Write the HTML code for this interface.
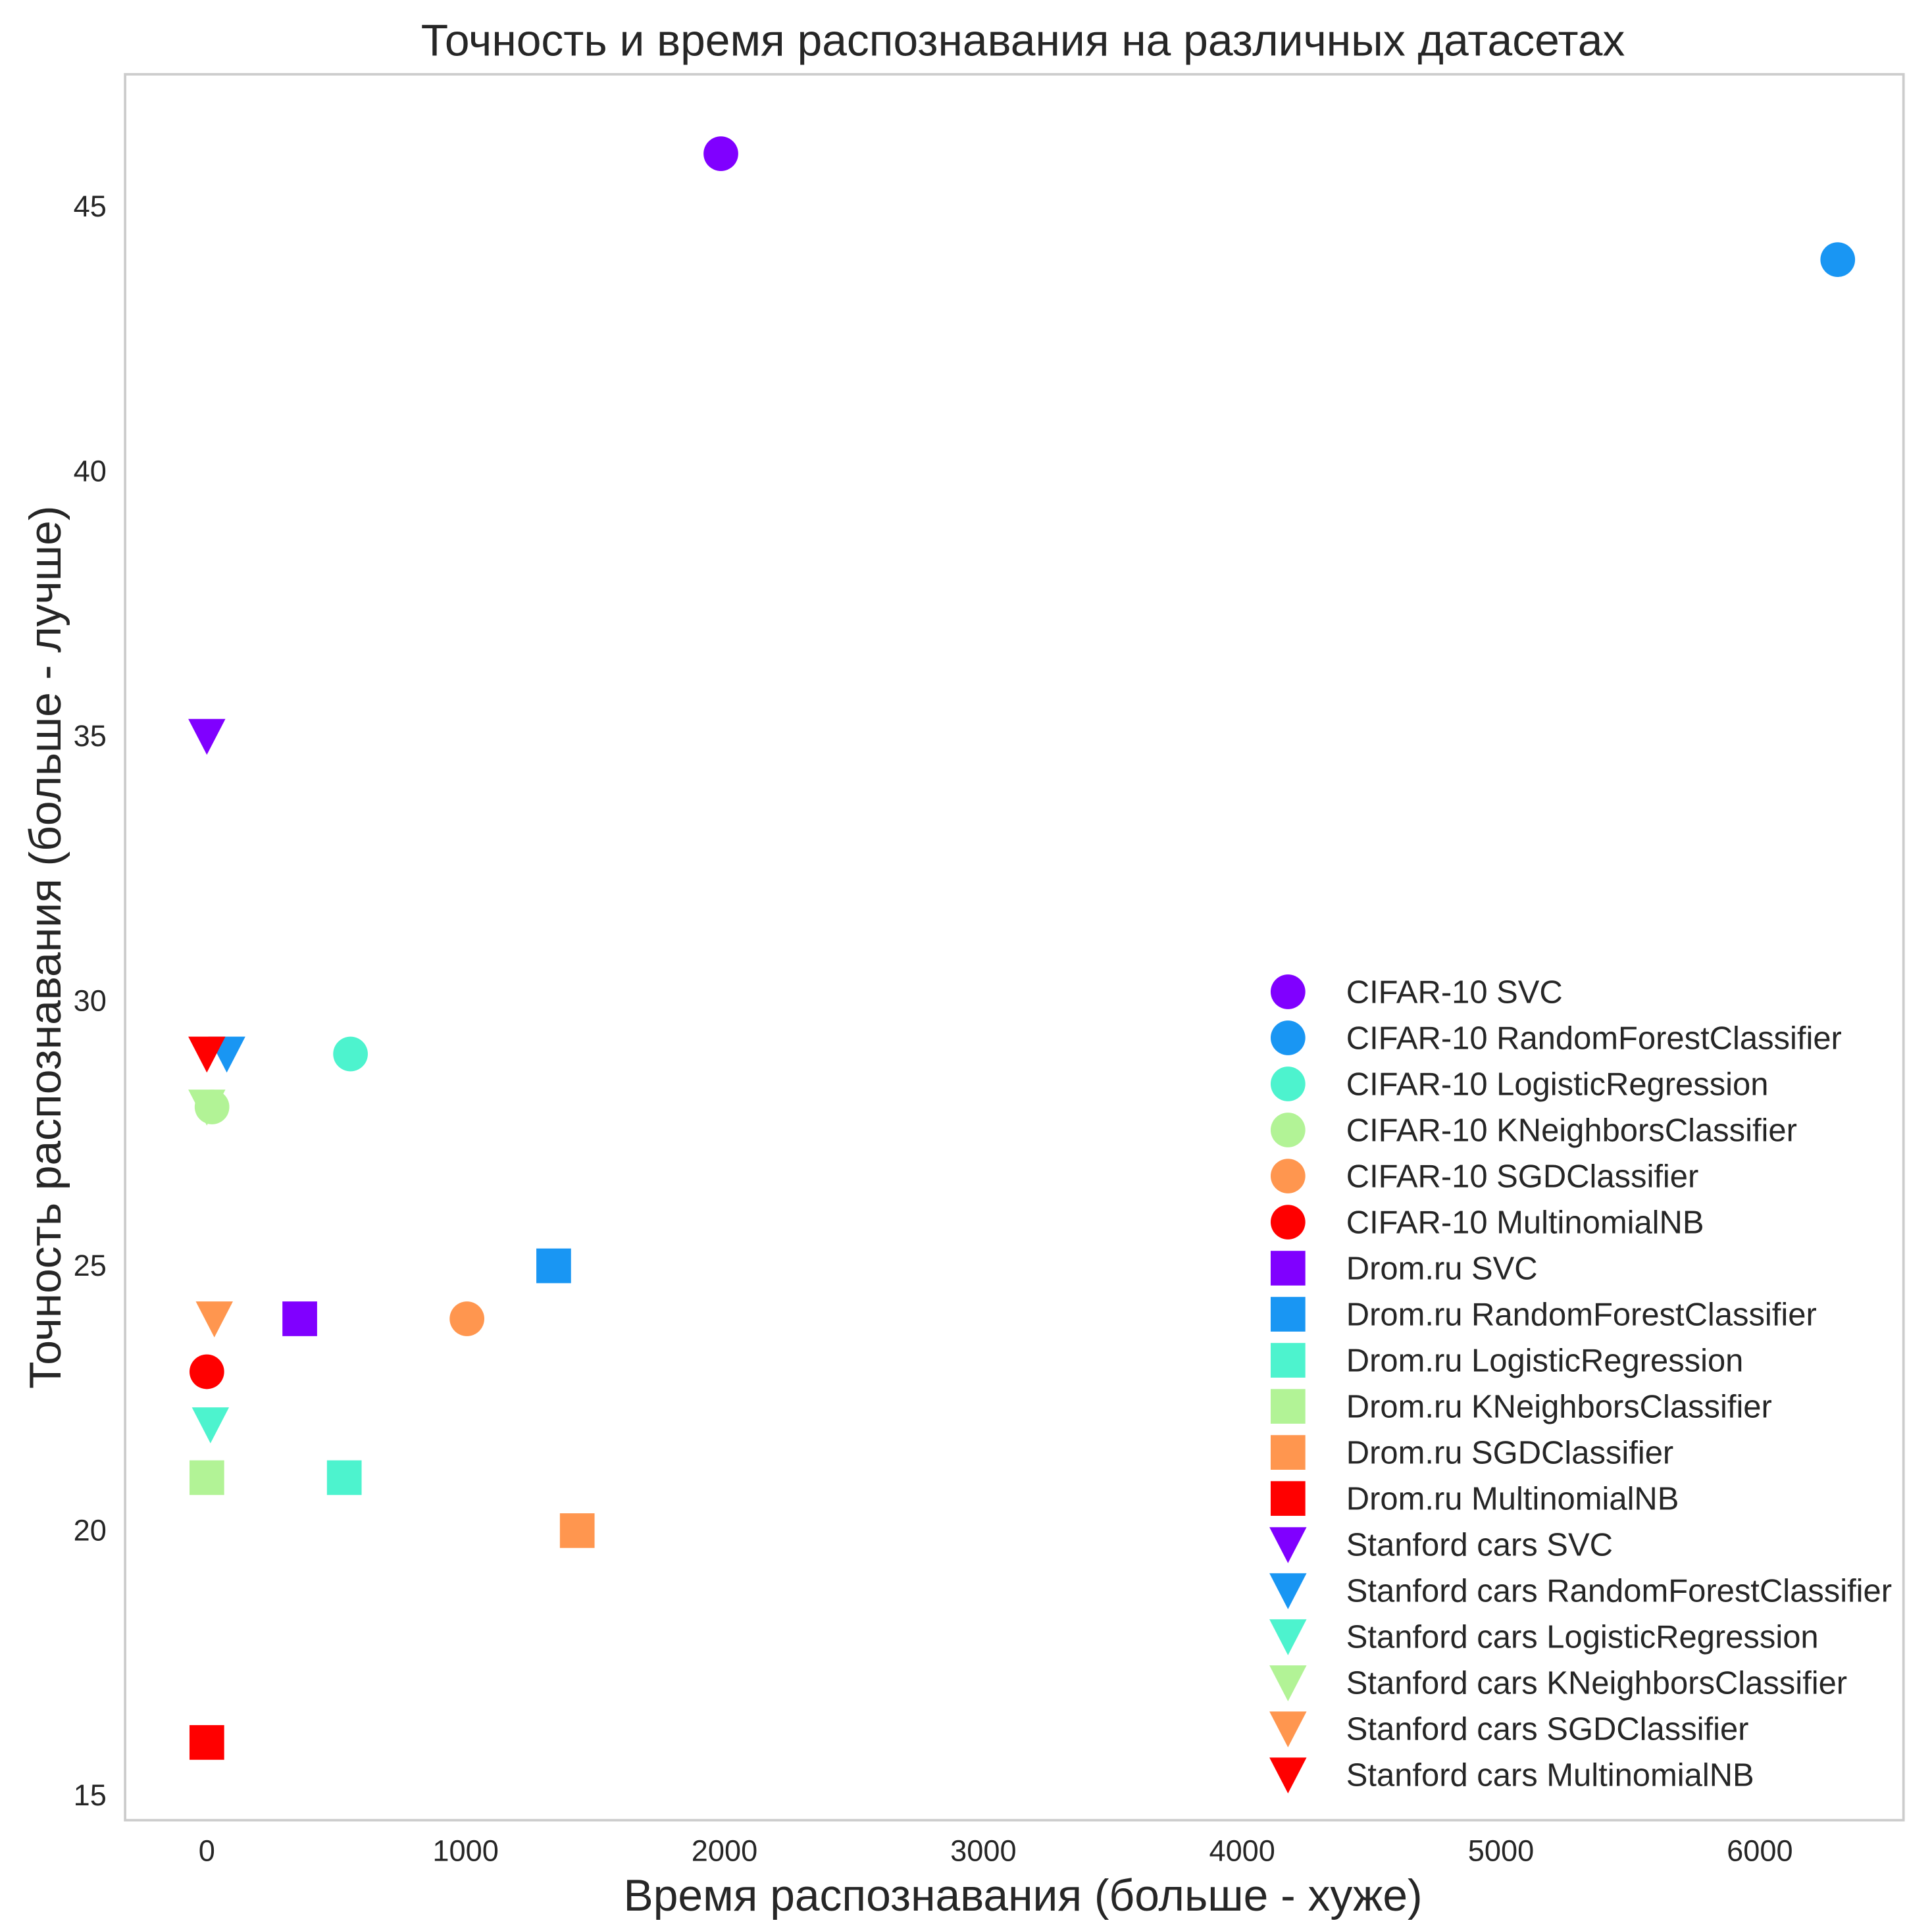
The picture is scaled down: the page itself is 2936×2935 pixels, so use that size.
<!DOCTYPE html>
<html><head><meta charset="utf-8"><style>
html,body{margin:0;padding:0;background:#fff;}
svg{display:block;}
text{font-family:"Liberation Sans","DejaVu Sans",sans-serif;fill:#262626;}
</style></head><body>
<svg id="chart" width="2936" height="2935" viewBox="0 0 1560 1559.5">
<rect x="0" y="0" width="1560" height="1560" fill="#fff"/>
<text x="826" y="45" font-size="36" text-anchor="middle">Точность и время распознавания на различных датасетах</text>
<g id="ticks"></g>
<g id="marks"></g>
<rect x="101" y="60" width="1436" height="1410" fill="none" stroke="#cccccc" stroke-width="2"/>
<text x="826" y="1543" font-size="36" text-anchor="middle">Время распознавания (больше - хуже)</text>
<text transform="translate(49,765) rotate(-90)" font-size="36" text-anchor="middle">Точность распознавания (больше - лучше)</text>
<g id="legend"></g>
</svg>
<script>
const xTicks = [0,1000,2000,3000,4000,5000,6000];
const yTicks = [15,20,25,30,35,40,45];
const models = ["SVC","RandomForestClassifier","LogisticRegression","KNeighborsClassifier","SGDClassifier","MultinomialNB"];
const datasets = ["CIFAR-10","Drom.ru","Stanford cars"];
const cifarTime = [1986,6301,555,20,1005,0];
const cifarAcc = [46,44,29,28,24,23];
const dromTime = [359,1340,531,0,1431,0];
const dromAcc = [24,25,21,21,20,16];
const stanTime = [0,77,14,0,29,0];
const stanAcc = [35,29,22,28,24,29];
const colors = ["#8000ff","#1996f3","#4df3ce","#b2f396","#ff964f","#ff0000"];
const NS="http://www.w3.org/2000/svg";
const sx = v => 167 + v*0.209;
const sy = v => 1450 - (v-15)*42.77;
function mk(tag, attrs, parent){const e=document.createElementNS(NS,tag);for(const k in attrs)e.setAttribute(k,attrs[k]);parent.appendChild(e);return e;}
const tg=document.getElementById('ticks');
xTicks.forEach(t=>{const e=mk('text',{x:sx(t),y:1503,'font-size':24,'text-anchor':'middle'},tg);e.textContent=t;

});
yTicks.forEach(t=>{const e=mk('text',{x:86,y:sy(t)+8,'font-size':24,'text-anchor':'end'},tg);e.textContent=t;

});
function marker(shape,cx,cy,color,parent){
  let e;
  if(shape===0) e=mk('circle',{cx:cx,cy:cy,r:14,fill:color},parent);
  else if(shape===1) e=mk('rect',{x:cx-14,y:cy-14,width:28,height:28,fill:color},parent);
  else e=mk('polygon',{points:`${cx-15},${cy-14} ${cx+15},${cy-14} ${cx},${cy+15}`,fill:color},parent);
  return e;
}
const mg=document.getElementById('marks');
const times=[cifarTime,dromTime,stanTime], accs=[cifarAcc,dromAcc,stanAcc];
const lg=document.getElementById('legend');
let row=0;
for(let d=0;d<3;d++){
  for(let m=0;m<6;m++){
    const p=marker(d,sx(times[d][m]),sy(accs[d][m]),colors[m],mg);
    
    
    const ly=801+row*37.2;
    const lm=marker(d,1040,ly,colors[m],lg);
    
    
    const t=mk('text',{x:1087,y:ly+9,'font-size':26},lg);
    t.textContent=datasets[d]+' '+models[m];
    
    
    row++;
  }
}
</script>
</body></html>
